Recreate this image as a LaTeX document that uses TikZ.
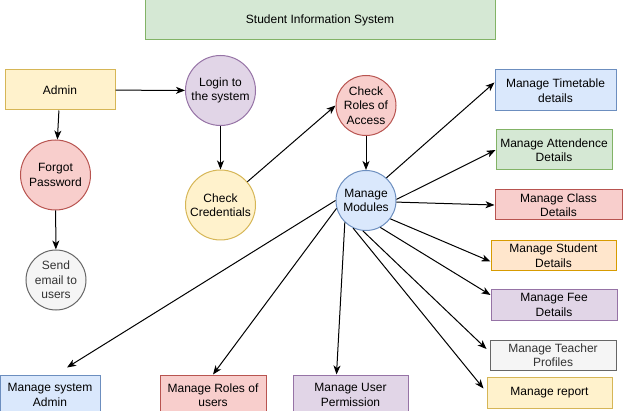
\documentclass[tikz,border=0pt]{standalone}
\usepackage{fontspec}
\setmainfont{Liberation Sans}
\usetikzlibrary{arrows.meta,calc}
\definecolor{gfill}{HTML}{D5E8D4}\definecolor{gline}{HTML}{82B366}
\definecolor{yfill}{HTML}{FFF2CC}\definecolor{yline}{HTML}{D6B656}
\definecolor{pfill}{HTML}{E1D5E7}\definecolor{pline}{HTML}{9673A6}
\definecolor{rfill}{HTML}{F8CECC}\definecolor{rline}{HTML}{B85450}
\definecolor{bfill}{HTML}{DAE8FC}\definecolor{bline}{HTML}{6C8EBF}
\definecolor{kfill}{HTML}{F5F5F5}\definecolor{kline}{HTML}{666666}\definecolor{ktext}{HTML}{333333}
\definecolor{ofill}{HTML}{FFE6CC}\definecolor{oline}{HTML}{D79B00}
\tikzset{
  base/.style={line width=1pt, align=center, inner sep=0pt, font=\fontsize{12}{14.5}\selectfont},
  circ/.style={base, circle, minimum size=#1},
  box/.style 2 args={base, rectangle, minimum width=#1, minimum height=#2},
  green/.style={fill=gfill, draw=gline},
  yellow/.style={fill=yfill, draw=yline},
  purple/.style={fill=pfill, draw=pline},
  red/.style={fill=rfill, draw=rline},
  blue/.style={fill=bfill, draw=bline},
  gray/.style={fill=kfill, draw=kline, text=ktext},
  orange/.style={fill=ofill, draw=oline},
  arr/.style={line width=1pt, -{Stealth[length=9pt,width=7pt,inset=2.5pt]}},
}
\begin{document}
\begin{tikzpicture}[x=1pt,y=-1pt]
\useasboundingbox (0,0) rectangle (623,411);
% nodes
\node[box={350pt}{40pt}, green] (title) at (320,20) {Student Information System};
\node[box={110pt}{40pt}, yellow] (admin) at (60,90) {Admin};
\node[circ=70pt, red] (forgot) at (55.5,175) {Forgot\\Password};
\node[circ=60pt, gray] (send) at (56,280) {Send\\email to\\users};
\node[circ=70pt, purple] (login) at (220.5,90.5) {Login to\\the system};
\node[circ=70pt, yellow] (cred) at (220.5,205) {Check\\Credentials};
\node[circ=60pt, red] (roles) at (366,105.5) {Check\\Roles of\\Access};
\node[circ=60pt, blue] (mm) at (366,200.5) {Manage\\Modules};
\node[box={121pt}{41pt}, blue] (tt) at (555.5,90.5) {Manage Timetable\\details};
\node[box={116pt}{40pt}, green] (at) at (554,150) {Manage Attendence\\Details};
\node[box={127pt}{30pt}, red] (cl) at (558.5,205) {Manage Class\\Details};
\node[box={125pt}{30pt}, orange] (sd) at (553.5,255.5) {Manage Student\\Details};
\node[box={126pt}{30pt}, purple] (fe) at (554,305) {Manage Fee\\Details};
\node[box={126pt}{30pt}, gray] (te) at (553,355) {Manage Teacher\\Profiles};
\node[box={125pt}{31pt}, yellow] (rp) at (549.5,392.5) {Manage report};
\node[box={100pt}{40pt}, blue] (sa) at (50,395) {Manage system\\Admin};
\node[box={106pt}{40pt}, red] (ru) at (213,395) {Manage Roles of\\users};
\node[box={115pt}{40pt}, purple] (up) at (350.5,395) {Manage User\\Permission};
% connectors
\draw[arr] (admin) -- (login);
\draw[arr] (admin) -- (forgot);
\draw[arr] (forgot) -- (send);
\draw[arr] (login) -- (cred);
\draw[arr] (cred) -- (roles.west);
\draw[arr] (roles) -- (mm);
\draw[arr] (mm.48) -- ($(tt.west)+(0,-8)$);
\draw[arr] (mm.2) -- (at.west);
\draw[arr] (mm.-3) -- (cl.west);
\draw[arr] (mm.-37) -- ($(sd.west)+(0,6)$);
\draw[arr] (mm.-62) -- ($(fe.west)+(0,-10)$);
\draw[arr] (mm.-96) -- ($(te.west)+(-3,-6)$);
\draw[arr] (mm.-115) -- ($(rp.west)+(-3,-4)$);
\draw[arr] (mm.west) -- ($(sa.north)+(17,-7)$);
\draw[arr] (mm.195) -- (ru.north);
\draw[arr] (mm.226) -- ($(up.north)+(-14,0)$);
\end{tikzpicture}
\end{document}
